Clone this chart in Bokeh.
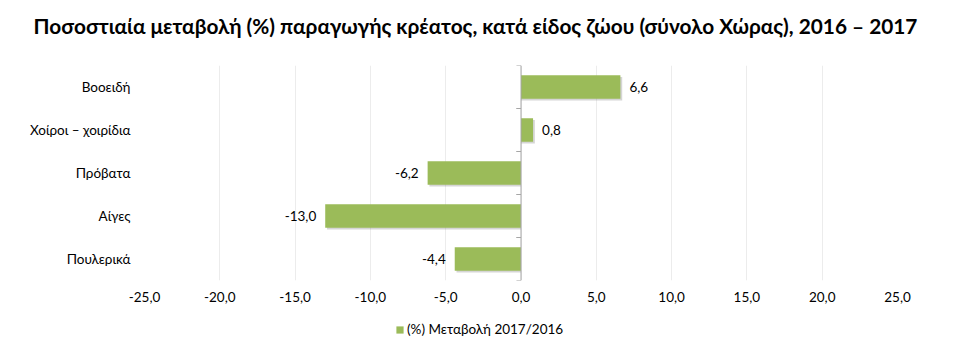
from bokeh.plotting import figure
from bokeh.layouts import column
from bokeh.models import ColumnDataSource, FactorRange, Range1d, Legend, LegendItem, FixedTicker, Span
from bokeh.embed import file_html
from bokeh.resources import INLINE
from bokeh.core.properties import value
from bokeh.transform import dodge

categories = ["Βοοειδή", "Χοίροι – χοιρίδια", "Πρόβατα", "Αίγες", "Πουλερικά"]
values = [6.6, 0.8, -6.2, -13.0, -4.4]
series_name = "(%) Μεταβολή 2017/2016"
tick_values = [-25, -20, -15, -10, -5, 0, 5, 10, 15, 20, 25]
tick_labels = ["-25,0", "-20,0", "-15,0", "-10,0", "-5,0", "0,0", "5,0", "10,0", "15,0", "20,0", "25,0"]
title_text = "Ποσοστιαία μεταβολή (%) παραγωγής κρέατος, κατά είδος ζώου (σύνολο Χώρας), 2016 – 2017"

FONT = "Lato"
GREEN = "#9BBB59"
W = 941
FL = 144
FR = W - 897

labels = [f"{v:.1f}".replace(".", ",") for v in values]
src = ColumnDataSource(dict(
    cat=categories, val=values, lab=labels,
    zero=[0.0] * len(values),
    tick0=[-0.3] * len(values),
    align=["left" if v >= 0 else "right" for v in values],
    xoff=[9 if v >= 0 else -9 for v in values],
))

# title strip
tf = figure(width=W, height=50, output_backend="svg", toolbar_location=None,
            x_range=Range1d(-25, 25), y_range=Range1d(0, 1),
            min_border_left=FL, min_border_right=FR, min_border_top=0, min_border_bottom=0)
tf.axis.visible = False
tf.grid.visible = False
tf.outline_line_color = None
tf.title.text = title_text
tf.title.text_font = FONT
tf.title.text_font_size = "20.8px"
tf.title.text_font_style = "bold"
tf.title.text_color = "#000000"
tf.title.align = "left"
tf.title.offset = -111
tf.title.standoff = 20

p = figure(width=W, height=260, output_backend="svg", toolbar_location=None,
           y_range=FactorRange(factors=list(reversed(categories))), x_range=Range1d(-25, 25),
           min_border_left=FL, min_border_right=FR, min_border_top=15, min_border_bottom=30)
p.title.text = ""
p.title.standoff = 0
p.title.visible = False

p.outline_line_color = None
p.ygrid.grid_line_color = None
p.xgrid.grid_line_color = "#ececec"
p.xgrid.ticker = FixedTicker(ticks=tick_values)

shadow = p.hbar(y=dodge("cat", -0.04, range=p.y_range), left="zero",
                right=dodge("val", 0.12, range=p.x_range), height=0.55, source=src,
                fill_color="#888888", fill_alpha=0.35, line_color=None)
bars = p.hbar(y="cat", left="zero", right="val", height=0.55, source=src,
              fill_color=GREEN, line_color=None)

# category axis line at zero with boundary ticks
p.add_layout(Span(location=0, dimension="height", line_color="#a6a6a6", line_width=1))
p.segment(x0="tick0", x1="zero", y0=dodge("cat", 0.5, range=p.y_range),
          y1=dodge("cat", 0.5, range=p.y_range), source=src, line_color="#a6a6a6")
p.segment(x0="tick0", x1="zero", y0=dodge("cat", -0.5, range=p.y_range),
          y1=dodge("cat", -0.5, range=p.y_range), source=src, line_color="#a6a6a6")

p.text(x="val", y="cat", text="lab", source=src, text_align="align",
       text_baseline="middle", x_offset="xoff", text_font=value(FONT),
       text_font_size="13.5px", text_color="#000000")

p.xaxis.ticker = FixedTicker(ticks=tick_values)
p.xaxis.major_label_overrides = {t: l for t, l in zip(tick_values, tick_labels)}
p.xaxis.axis_line_color = None
p.xaxis.major_tick_line_color = None
p.xaxis.minor_tick_line_color = None
p.xaxis.major_tick_out = 0
p.xaxis.major_tick_in = 0
p.xaxis.major_label_text_font = FONT
p.xaxis.major_label_text_font_size = "13.5px"
p.xaxis.major_label_text_color = "#000000"
p.xaxis.major_label_standoff = 11

p.yaxis.axis_line_color = None
p.yaxis.major_tick_line_color = None
p.yaxis.minor_tick_line_color = None
p.yaxis.major_tick_out = 0
p.yaxis.major_tick_in = 0
p.yaxis.major_label_text_font = FONT
p.yaxis.major_label_text_font_size = "13.5px"
p.yaxis.major_label_text_color = "#000000"
p.yaxis.major_label_standoff = 14

# legend strip below the chart (its zero-height bars only feed the legend swatch)
lg = figure(width=W, height=32, output_backend="svg", toolbar_location=None,
            x_range=Range1d(-25, 25), y_range=FactorRange(factors=list(reversed(categories))),
            min_border_left=0, min_border_right=0, min_border_top=0, min_border_bottom=0)
lg.axis.visible = False
lg.grid.visible = False
lg.outline_line_color = None
leg_r = lg.hbar(y="cat", left="zero", right="val", height=0, source=src,
                fill_color=GREEN, line_color=None)
legend = Legend(items=[LegendItem(label=series_name, renderers=[leg_r], index=0)],
                orientation="horizontal", location=(251, 5),
                label_text_font=FONT, label_text_font_size="13.5px",
                label_text_color="#000000", glyph_width=9, glyph_height=9,
                border_line_color=None, background_fill_alpha=0,
                label_standoff=3, padding=2, margin=0)
lg.add_layout(legend)

layout = column(tf, p, lg, spacing=0)
open("out.html", "w").write(file_html(layout, INLINE))
